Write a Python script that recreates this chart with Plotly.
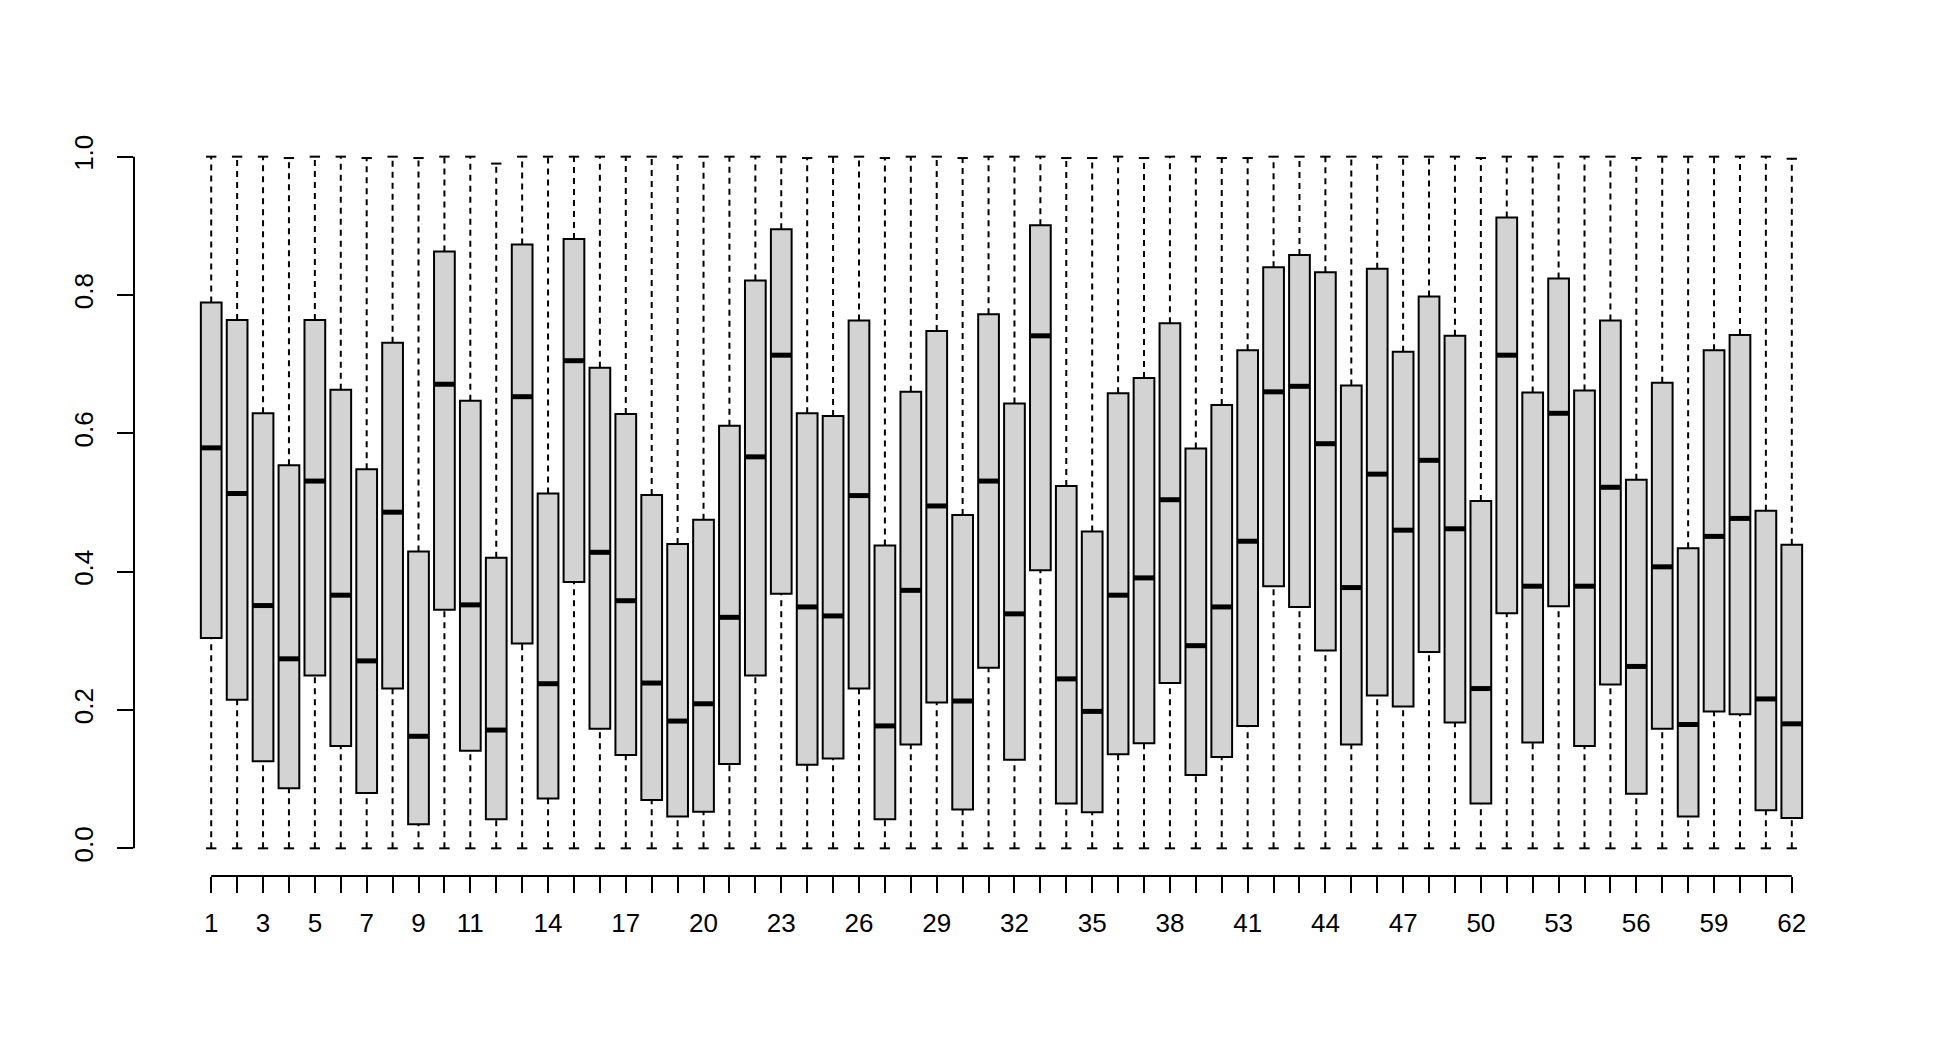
# boxplot of 62 groups, R base-graphics look

import plotly.graph_objs as go

# box statistics, groups 1..62
groups = list(range(1, 63))

q1 = [0.304, 0.215, 0.126, 0.087, 0.250, 0.148, 0.080, 0.231, 0.035, 0.345,
      0.141, 0.042, 0.296, 0.072, 0.385, 0.173, 0.135, 0.070, 0.046, 0.053,
      0.122, 0.250, 0.368, 0.121, 0.130, 0.231, 0.042, 0.150, 0.211, 0.056,
      0.261, 0.128, 0.402, 0.065, 0.052, 0.136, 0.152, 0.239, 0.106, 0.132,
      0.177, 0.379, 0.349, 0.286, 0.150, 0.221, 0.205, 0.284, 0.182, 0.065,
      0.340, 0.153, 0.350, 0.148, 0.237, 0.079, 0.173, 0.046, 0.198, 0.194,
      0.055, 0.044]

medians = [0.579, 0.513, 0.351, 0.274, 0.531, 0.366, 0.271, 0.486, 0.162, 0.671,
           0.352, 0.171, 0.653, 0.238, 0.705, 0.428, 0.358, 0.239, 0.184, 0.209,
           0.334, 0.566, 0.713, 0.349, 0.336, 0.510, 0.177, 0.373, 0.495, 0.213,
           0.531, 0.339, 0.741, 0.245, 0.198, 0.366, 0.391, 0.504, 0.293, 0.349,
           0.444, 0.660, 0.668, 0.585, 0.377, 0.541, 0.460, 0.561, 0.462, 0.231,
           0.713, 0.379, 0.629, 0.379, 0.522, 0.263, 0.407, 0.179, 0.451, 0.477,
           0.216, 0.180]

q3 = [0.789, 0.764, 0.629, 0.554, 0.764, 0.663, 0.548, 0.731, 0.429, 0.863,
      0.647, 0.420, 0.873, 0.513, 0.881, 0.695, 0.628, 0.511, 0.440, 0.475,
      0.611, 0.821, 0.895, 0.629, 0.625, 0.763, 0.438, 0.660, 0.748, 0.482,
      0.772, 0.643, 0.901, 0.524, 0.458, 0.658, 0.680, 0.759, 0.578, 0.641,
      0.720, 0.840, 0.858, 0.833, 0.669, 0.838, 0.718, 0.798, 0.741, 0.502,
      0.912, 0.659, 0.824, 0.662, 0.763, 0.533, 0.673, 0.434, 0.720, 0.742,
      0.488, 0.439]

whisker_lo = [0.0] * 62

whisker_hi = [1.0, 1.0, 1.0, 0.998, 1.0, 1.0, 0.998, 1.0, 0.998, 1.0,
              1.0, 0.990, 1.0, 1.0, 1.0, 1.0, 1.0, 1.0, 1.0, 1.0,
              1.0, 1.0, 1.0, 0.998, 1.0, 1.0, 0.998, 1.0, 1.0, 0.998,
              1.0, 1.0, 1.0, 0.998, 0.998, 1.0, 0.998, 1.0, 1.0, 0.998,
              0.998, 1.0, 1.0, 1.0, 1.0, 1.0, 1.0, 1.0, 1.0, 0.998,
              1.0, 1.0, 1.0, 1.0, 1.0, 0.998, 1.0, 1.0, 1.0, 1.0,
              1.0, 0.997]

# R drops labels that would overlap, only these are printed
shown_labels = [1, 3, 5, 7, 9, 11, 14, 17, 20, 23, 26, 29, 32, 35, 38, 41,
                44, 47, 50, 53, 56, 59, 62]
y_ticks = [0.0, 0.2, 0.4, 0.6, 0.8, 1.0]

FONT = "Liberation Sans"
BOXW = 0.8
CAPW = 0.4

# boxes (whiskers drawn separately so they can be dashed)
box = go.Box(x=groups, q1=q1, median=medians, q3=q3,
             lowerfence=q1, upperfence=q3,
             width=BOXW, whiskerwidth=0, boxpoints=False,
             fillcolor='#d3d3d3', line=dict(color='black', width=2),
             hoverinfo='skip', showlegend=False)

# dashed whiskers
wx, wy = [], []
for g, lo, a, b, hi in zip(groups, whisker_lo, q1, q3, whisker_hi):
    wx += [g, g, None, g, g, None]
    wy += [lo, a, None, b, hi, None]
whiskers = go.Scatter(x=wx, y=wy, mode='lines',
                      line=dict(color='black', width=2, dash='6px,5px'),
                      hoverinfo='skip', showlegend=False)

# staples at the whisker ends
cx, cy = [], []
for g, lo, hi in zip(groups, whisker_lo, whisker_hi):
    cx += [g - CAPW / 2, g + CAPW / 2, None, g - CAPW / 2, g + CAPW / 2, None]
    cy += [lo, lo, None, hi, hi, None]
caps = go.Scatter(x=cx, y=cy, mode='lines', line=dict(color='black', width=2),
                  hoverinfo='skip', showlegend=False)

# thick median bars
mx, my = [], []
for g, m in zip(groups, medians):
    mx += [g - BOXW / 2, g + BOXW / 2, None]
    my += [m, m, None]
meds = go.Scatter(x=mx, y=my, mode='lines', line=dict(color='black', width=5),
                  hoverinfo='skip', showlegend=False)

ticktext = [str(g) if g in shown_labels else '' for g in groups]

# page body has an 8px margin, so the figure is 16px smaller than the window
layout = go.Layout(
    width=1921, height=1022,
    paper_bgcolor='white', plot_bgcolor='white',
    margin=dict(l=126, r=60, t=121, b=154),
    font=dict(family=FONT, size=26, color='black'),
    xaxis=dict(range=[-1.98, 64.98], showgrid=False, zeroline=False, showline=False,
               tickmode='array', tickvals=groups, ticktext=ticktext,
               ticks='outside', ticklen=16, tickwidth=2, tickcolor='black',
               ticklabelstandoff=8, tickfont=dict(family=FONT, size=26)),
    yaxis=dict(range=[-0.04, 1.04], showgrid=False, zeroline=False, showline=False,
               tickmode='array', tickvals=y_ticks,
               ticktext=['%.1f' % v for v in y_ticks],
               ticks='outside', ticklen=16, tickwidth=2, tickcolor='black',
               tickangle=-90, ticklabelstandoff=14,
               tickfont=dict(family=FONT, size=26)),
    shapes=[
        dict(type='line', xref='paper', yref='y', x0=0, x1=0,
             y0=y_ticks[0], y1=y_ticks[-1], line=dict(color='black', width=2)),
        dict(type='line', xref='x', yref='paper', x0=groups[0], x1=groups[-1],
             y0=0, y1=0, line=dict(color='black', width=2)),
    ],
)

fig = go.Figure(data=[whiskers, caps, box, meds], layout=layout)
fig.write_html("out.html")
